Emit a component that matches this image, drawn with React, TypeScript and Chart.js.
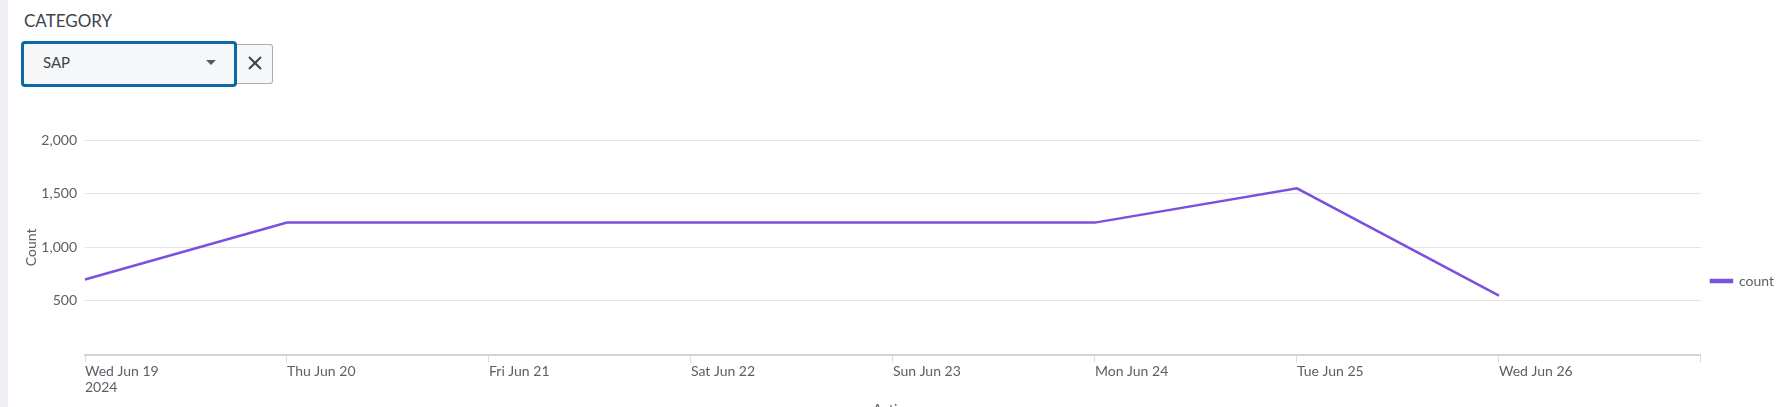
import React, { useEffect, useRef } from "react";
import { Chart, registerables } from "chart.js";

Chart.register(...registerables);

const dayLabels: (string | string[])[] = [
  ["Wed Jun 19", "2024"],
  "Thu Jun 20",
  "Fri Jun 21",
  "Sat Jun 22",
  "Sun Jun 23",
  "Mon Jun 24",
  "Tue Jun 25",
  "Wed Jun 26",
  "",
];
const countValues: number[] = [700, 1230, 1230, 1230, 1230, 1230, 1550, 550];
const yTicks: number[] = [0, 500, 1000, 1500, 2000];
const seriesName = "count";
const yTitle = "Count";
const xTitle = "Action";
const categoryLabel = "CATEGORY";
const selectedValue = "SAP";

const FONT = "Lato, 'Open Sans', sans-serif";
const PURPLE = "#7b50df";
const TEXT = "#5a5f66";

const CANVAS_LEFT = 23;
const CANVAS_TOP = 110;
const CANVAS_W = 1761;
const CANVAS_H = 342;
const Y_AXIS_W = 62;

function LineChart() {
  const ref = useRef<HTMLCanvasElement | null>(null);
  useEffect(() => {
    if (!ref.current) return;
    const chart = new Chart(ref.current, {
      type: "line",
      data: {
        labels: dayLabels,
        datasets: [
          {
            label: seriesName,
            data: countValues,
            borderColor: PURPLE,
            backgroundColor: PURPLE,
            borderWidth: 2.5,
            pointRadius: 0,
            pointHoverRadius: 0,
            tension: 0,
          },
        ],
      },
      options: {
        animation: false,
        responsive: false,
        maintainAspectRatio: false,
        layout: { padding: { top: 30, right: 0, left: 0, bottom: 30 } },
        plugins: {
          legend: {
            position: "right",
            labels: {
              boxWidth: 21,
              boxHeight: 2,
              padding: 10,
              color: TEXT,
              font: { family: FONT, size: 14 },
            },
          },
          tooltip: { enabled: false },
        },
        scales: {
          x: {
            type: "category",
            offset: false,
            grid: {
              drawOnChartArea: false,
              drawTicks: true,
              tickLength: 8,
              color: "#dcdcdc",
            },
            border: { display: true, color: "#d4d4d4", width: 2 },
            ticks: {
              autoSkip: false,
              maxRotation: 0,
              align: "start",
              padding: 0,
              color: TEXT,
              font: { family: FONT, size: 14 },
            },
            title: {
              display: true,
              text: xTitle,
              color: TEXT,
              font: { family: FONT, size: 14 },
              padding: { top: 5, bottom: 4 },
            },
          },
          y: {
            min: yTicks[0],
            max: yTicks[yTicks.length - 1],
            afterBuildTicks: (axis: any) => {
              axis.ticks = yTicks.map((v) => ({ value: v }));
            },
            afterFit: (axis: any) => {
              axis.width = Y_AXIS_W;
            },
            grid: { color: "#e4e4e4", drawTicks: false },
            border: { display: false },
            ticks: {
              padding: 8,
              color: TEXT,
              font: { family: FONT, size: 14 },
              callback: (v: any) => (Number(v) === 0 ? "" : Number(v).toLocaleString("en-US")),
            },
            title: {
              display: true,
              text: yTitle,
              color: TEXT,
              font: { family: FONT, size: 14 },
              padding: { top: 0, bottom: 4 },
            },
          },
        },
      } as any,
    });
    return () => chart.destroy();
  }, []);
  return (
    <canvas
      ref={ref}
      width={CANVAS_W}
      height={CANVAS_H}
      style={{ position: "absolute", left: CANVAS_LEFT, top: CANVAS_TOP, width: CANVAS_W, height: CANVAS_H }}
    />
  );
}

export default function App() {
  return (
    <div
      style={{
        position: "fixed",
        left: 0,
        top: 0,
        width: 1781,
        height: 407,
        overflow: "hidden",
        background: "#fff",
        fontFamily: FONT,
      }}
    >
      <div style={{ position: "absolute", left: 0, top: 0, width: 8, height: 407, background: "#eef0f3" }} />
      <div
        style={{
          position: "absolute",
          left: 24,
          top: 11,
          fontSize: 17,
          lineHeight: "20px",
          color: "#3c444d",
        }}
      >
        {categoryLabel}
      </div>
      <div
        style={{
          position: "absolute",
          left: 21,
          top: 41,
          width: 210,
          height: 40,
          border: "3px solid #0a6aa1",
          borderRadius: 4,
          background: "#f6f7f9",
        }}
      />
      <div
        style={{
          position: "absolute",
          left: 43,
          top: 52,
          fontSize: 15,
          lineHeight: "20px",
          color: "#3c444d",
        }}
      >
        {selectedValue}
      </div>
      <svg style={{ position: "absolute", left: 206, top: 60 }} width={10} height={6}>
        <polygon points="0,0 10,0 5,5" fill="#4f5b66" />
      </svg>
      <div
        style={{
          position: "absolute",
          left: 237,
          top: 44,
          width: 35,
          height: 38,
          border: "1px solid #a7adb5",
          borderLeft: "none",
          borderRadius: "0 3px 3px 0",
          background: "#f6f7f9",
        }}
      />
      <svg style={{ position: "absolute", left: 248, top: 56 }} width={14} height={14}>
        <line x1={1} y1={1} x2={13} y2={13} stroke="#3c444d" strokeWidth={2} />
        <line x1={13} y1={1} x2={1} y2={13} stroke="#3c444d" strokeWidth={2} />
      </svg>
      <LineChart />
    </div>
  );
}
